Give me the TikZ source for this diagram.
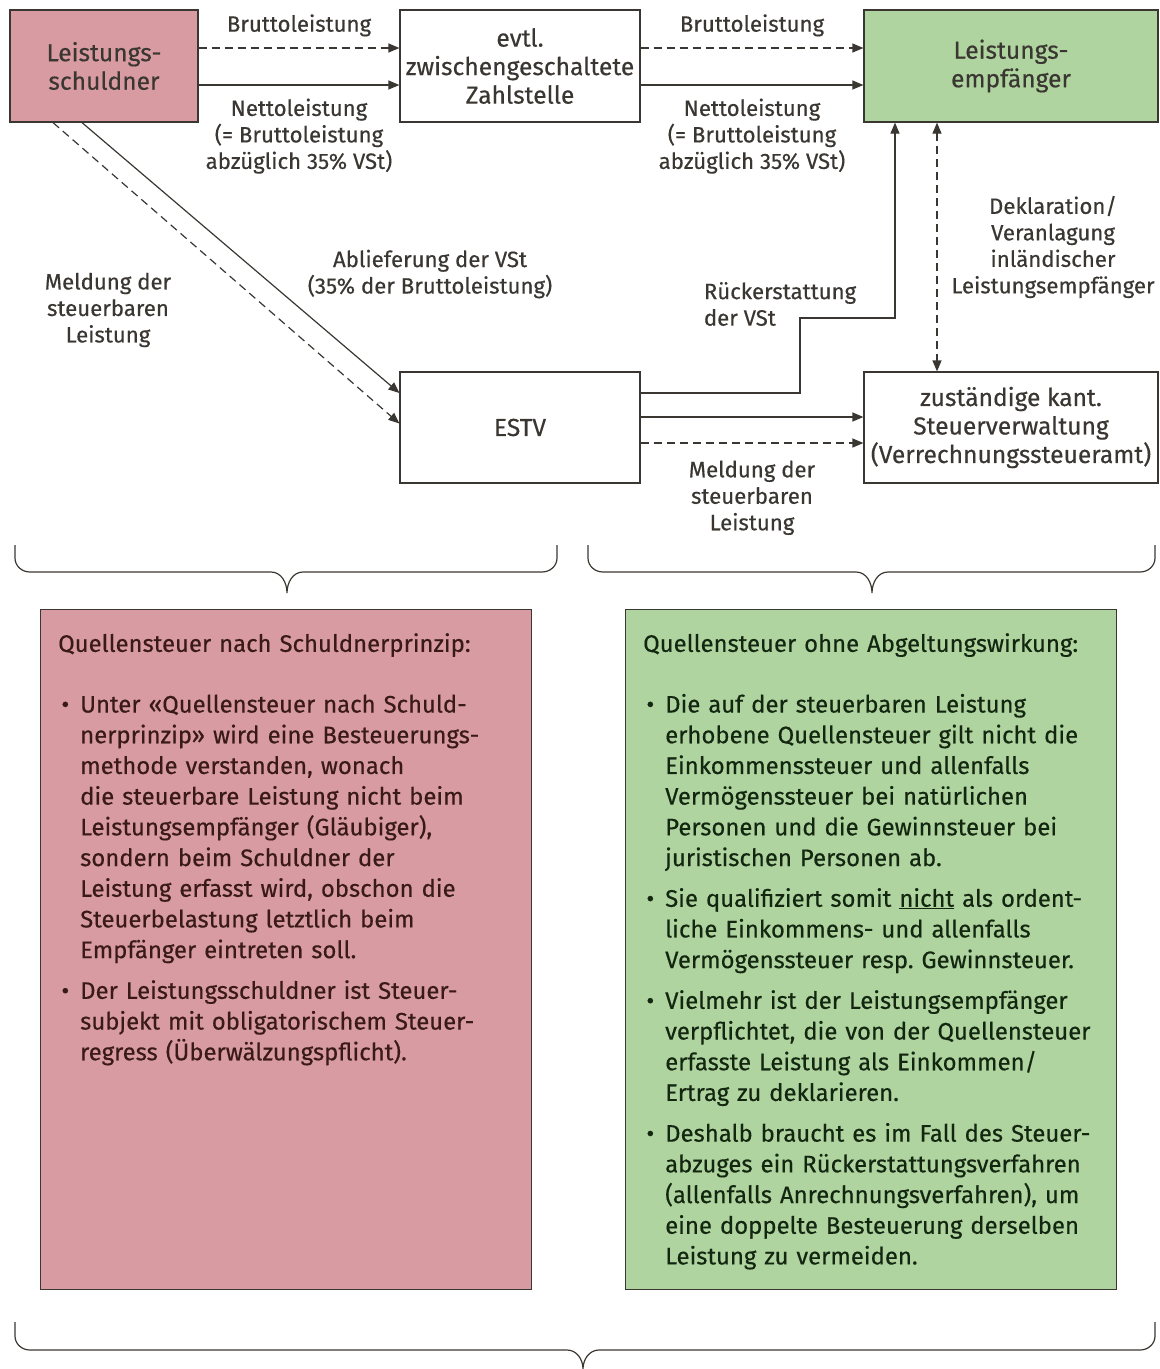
\documentclass[tikz,border=0pt]{standalone}
\usepackage{fontspec}
\setmainfont{Fira Sans}[UprightFeatures={FakeBold=0.4}]
\usepackage{enumitem}
\usetikzlibrary{arrows.meta,positioning}
\definecolor{rosa}{HTML}{D89BA2}
\definecolor{gruen}{HTML}{AFD4A0}
\definecolor{linie}{HTML}{3A3631}
\frenchspacing

\tikzset{
  kasten/.style={draw=linie, line width=1.2pt, minimum width=240pt, minimum height=112pt,
    align=center, inner sep=2pt, text=linie, font=\fontsize{24.6}{28.5}\selectfont},
  beschr/.style={align=center, inner sep=0pt, text=linie, font=\fontsize{22.2}{26.5}\selectfont},
  pfeil/.style={draw=linie, line width=1.2pt, -{Triangle[length=11pt,width=9pt]}},
  strich/.style={dash pattern=on 8pt off 5pt},
  klammer/.style={draw=linie, line width=1.2pt},
  infokasten/.style={draw=linie, line width=1.2pt, minimum width=491pt, minimum height=680pt, anchor=north west},
  infotext/.style={anchor=north west, text width=470pt, inner sep=0pt, font=\fontsize{23.9}{30.7}\selectfont}
}
\setlist[itemize]{label=\textbullet, leftmargin=22pt, labelsep=11pt, itemsep=10pt, parsep=0pt, topsep=30pt, partopsep=0pt}

\begin{document}
\begin{tikzpicture}[x=1pt, y=-1pt]
  \useasboundingbox (0,0) rectangle (1160,1369);

  % Knoten oben und Mitte
  \node[kasten, fill=rosa, minimum width=188pt] (schuldner) at (104,66) {Leistungs-\\schuldner};
  \node[kasten] (zahlstelle) at (520,66) {evtl.\\zwischengeschaltete\\Zahlstelle};
  \node[kasten, fill=gruen, minimum width=294pt] (empfaenger) at (1011,66) {Leistungs-\\empfänger};
  \node[kasten, minimum height=111pt] (estv) at (520,427.5) {ESTV};
  \node[kasten, minimum width=294pt, minimum height=111pt] (kanton) at (1011,427.5) {zuständige kant.\\Steuerverwaltung\\(Verrechnungssteueramt)};

  % Pfeile oben
  \draw[pfeil, strich] ([yshift=18pt]schuldner.east) -- node[beschr, above=11pt] (brutto1) {Bruttoleistung} ([yshift=18pt]zahlstelle.west);
  \draw[pfeil] ([yshift=-19pt]schuldner.east) -- node[beschr, below=13pt] (netto1) {Nettoleistung\\(= Bruttoleistung\\abzüglich 35\% VSt)} ([yshift=-19pt]zahlstelle.west);
  \draw[pfeil, strich] ([yshift=18pt]zahlstelle.east) -- node[beschr, above=11pt] (brutto2) {Bruttoleistung} ([yshift=18pt]empfaenger.west);
  \draw[pfeil] ([yshift=-19pt]zahlstelle.east) -- node[beschr, below=13pt] (netto2) {Nettoleistung\\(= Bruttoleistung\\abzüglich 35\% VSt)} ([yshift=-19pt]empfaenger.west);

  % Schraege Pfeile zur ESTV
  \draw[pfeil] ([xshift=-22pt]schuldner.south) -- ([yshift=34.5pt]estv.west);
  \draw[pfeil, strich] ([xshift=-51pt]schuldner.south) -- ([yshift=4pt]estv.west);
  \node[beschr] (ablieferung) at (430,274) {Ablieferung der VSt\\(35\% der Bruttoleistung)};
  \node[beschr] (meldung1) at (108,310) {Meldung der\\steuerbaren\\Leistung};

  % Rueckerstattung
  \coordinate (knick) at (800,318);
  \draw[pfeil] ([yshift=34.5pt]estv.east) -| (knick) -| ([xshift=-116pt]empfaenger.south);
  \node[beschr, align=left] (rueck) at (780,304) {Rückerstattung\\der VSt};

  % ESTV zur kant. Steuerverwaltung
  \draw[pfeil] ([yshift=10.5pt]estv.east) -- ([yshift=10.5pt]kanton.west);
  \draw[pfeil, strich] ([yshift=-15.5pt]estv.east) -- node[beschr, below=17pt] (meldung2) {Meldung der\\steuerbaren\\Leistung} ([yshift=-15.5pt]kanton.west);

  % Deklaration
  \draw[pfeil, strich, {Triangle[length=11pt,width=9pt]}-{Triangle[length=11pt,width=9pt]}] ([xshift=-74pt]empfaenger.south) -- ([xshift=-74pt]kanton.north);
  \node[beschr] (deklaration) at (1053,247) {Deklaration/\\Veranlagung\\inländischer\\Leistungsempfänger};

  % Klammern
  \draw[klammer] (15,545) -- (15,558) to[out=-90,in=180] (30,572) -- (271,572) to[out=0,in=90] (287,593)
    to[out=90,in=180] (303,572) -- (542,572) to[out=0,in=-90] (557,558) -- (557,545);
  \draw[klammer] (588,545) -- (588,558) to[out=-90,in=180] (603,572) -- (856,572) to[out=0,in=90] (872,593)
    to[out=90,in=180] (888,572) -- (1140,572) to[out=0,in=-90] (1155,558) -- (1155,545);
  \draw[klammer] (15,1322) -- (15,1336) to[out=-90,in=180] (30,1350) -- (567,1350) to[out=0,in=90] (583,1369)
    to[out=90,in=180] (599,1350) -- (1140,1350) to[out=0,in=-90] (1155,1336) -- (1155,1322);

  % Erklaerungen
  \node[infokasten, fill=rosa] (links) at (40,609) {};
  \node[infotext, text=linie!80!red!60!black] (linkstext) at ([xshift=18pt,yshift=-24pt]links.north west) {%
    Quellensteuer nach Schuldnerprinzip:
    \begin{itemize}
      \item Unter «Quellensteuer nach Schuld-\\nerprinzip» wird eine Besteuerungs-\\methode verstanden, wonach\\die steuerbare Leistung nicht beim\\Leistungsempfänger (Gläubiger),\\sondern beim Schuldner der\\Leistung erfasst wird, obschon die\\Steuerbelastung letztlich beim\\Empfänger eintreten soll.
      \item Der Leistungsschuldner ist Steuer-\\subjekt mit obligatorischem Steuer-\\regress (Überwälzungspflicht).
    \end{itemize}};
  \node[infokasten, fill=gruen] (rechts) at (625,609) {};
  \node[infotext, text=linie!80!green!40!black] (rechtstext) at ([xshift=18pt,yshift=-24pt]rechts.north west) {%
    Quellensteuer ohne Abgeltungswirkung:
    \begin{itemize}
      \item Die auf der steuerbaren Leistung\\erhobene Quellensteuer gilt nicht die\\Einkommenssteuer und allenfalls\\Vermögenssteuer bei natürlichen\\Personen und die Gewinnsteuer bei\\juristischen Personen ab.
      \item Sie qualifiziert somit \underline{nicht} als ordent-\\liche Einkommens- und allenfalls\\Vermögenssteuer resp. Gewinnsteuer.
      \item Vielmehr ist der Leistungsempfänger\\verpflichtet, die von der Quellensteuer\\erfasste Leistung als Einkommen/\\Ertrag zu deklarieren.
      \item Deshalb braucht es im Fall des Steuer-\\abzuges ein Rückerstattungsverfahren\\(allenfalls Anrechnungsverfahren), um\\eine doppelte Besteuerung derselben\\Leistung zu vermeiden.
    \end{itemize}};
\end{tikzpicture}
\end{document}
